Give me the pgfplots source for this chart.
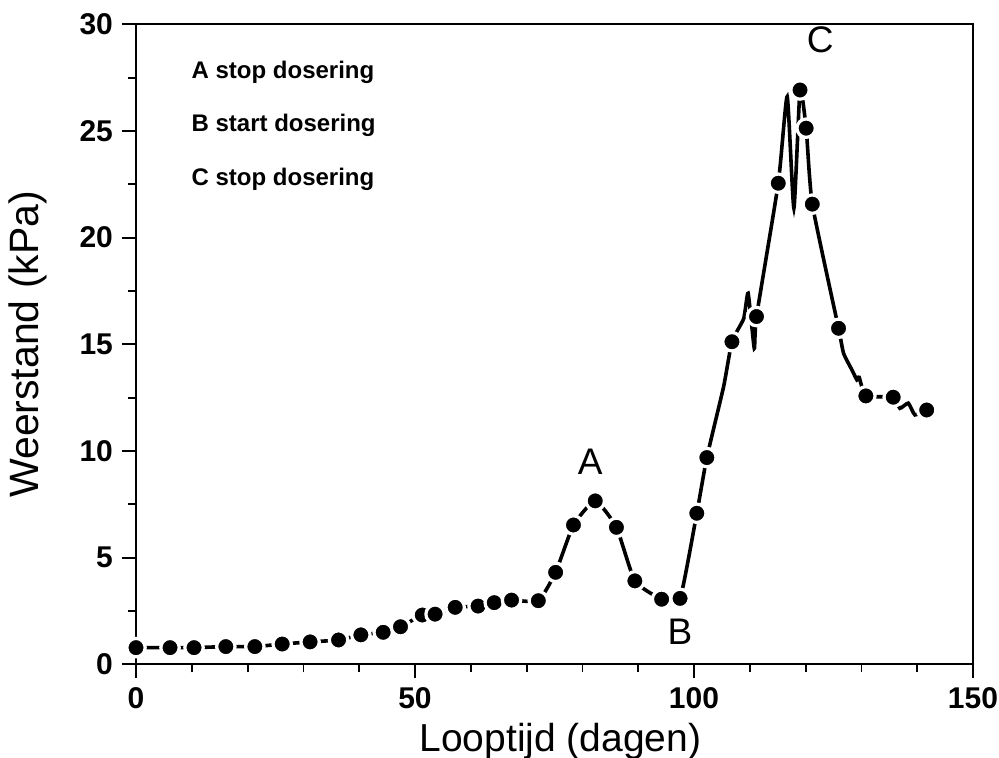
\documentclass[border=0pt]{standalone}
\usepackage{pgfplots}
\pgfplotsset{compat=1.18}
\usepackage{fontspec}
\setmainfont{Liberation Sans}
\setsansfont{Liberation Sans}
\pgfplotstableread{
x y
0 0.78
6.1 0.78
10.4 0.78
16.1 0.83
21.3 0.83
26.2 0.95
31.2 1.05
36.3 1.14
40.3 1.38
44.3 1.50
47.4 1.76
51.3 2.31
53.6 2.35
57.2 2.67
61.3 2.73
64.2 2.89
67.3 3.01
72.1 2.98
75.2 4.31
78.4 6.53
82.3 7.66
86.1 6.42
89.4 3.91
94.2 3.05
97.5 3.09
100.5 7.08
102.3 9.69
105.3 13.01
106.8 15.12
108.9 16.2
109.7 17.39
110.8 14.81
111.2 16.30
115.1 22.55
116.7 26.61
117.9 21.38
119.0 26.92
120.1 25.13
121.2 21.57
125.9 15.75
126.8 14.58
128.3 13.80
129.2 13.33
129.6 13.45
130.8 12.58
135.7 12.52
136.9 12.00
138.4 12.24
139.6 11.69
141.7 11.92
143.5 11.84
}\linedata
\pgfplotstableread{
x y
0 0.78
6.1 0.78
10.4 0.78
16.1 0.83
21.3 0.83
26.2 0.95
31.2 1.05
36.3 1.14
40.3 1.38
44.3 1.50
47.4 1.76
51.3 2.31
53.6 2.35
57.2 2.67
61.3 2.73
64.2 2.89
67.3 3.01
72.1 2.98
75.2 4.31
78.4 6.53
82.3 7.66
86.1 6.42
89.4 3.91
94.2 3.05
97.5 3.09
100.5 7.08
102.3 9.69
106.8 15.12
111.2 16.30
115.1 22.55
119.0 26.92
120.1 25.13
121.2 21.57
125.9 15.75
130.8 12.58
135.7 12.52
141.7 11.92
}\markdata
\begin{document}
\begin{tikzpicture}
\useasboundingbox (-68pt,-46.85pt) rectangle (431.5pt,332.15pt);
\begin{axis}[
  at={(0,0)}, anchor=south west,
  scale only axis,
  width=418.5pt, height=320pt,
  xmin=0, xmax=150, ymin=0, ymax=30,
  xtick={0,50,100,150},
  minor xtick={10,20,30,40,60,70,80,90,110,120,130,140},
  ytick={0,5,10,15,20,25,30},
  minor ytick={2.5,7.5,12.5,17.5,22.5,27.5},
  tick align=outside,
  xtick pos=left, ytick pos=left,
  major tick length=7pt, minor tick length=4pt,
  every tick/.style={black, line width=0.9pt},
  axis line style={line width=1pt},
  /pgf/number format/assume math mode=true,
  ticklabel style={font=\fontsize{15}{17}\selectfont\bfseries},
  xticklabel style={yshift=-1pt},
  yticklabel style={xshift=-1pt},
  xlabel={Looptijd (dagen)},
  ylabel={Weerstand (kPa)},
  xlabel style={font=\fontsize{19.5}{21}\selectfont, at={(axis description cs:0.507,-0.121)}, anchor=center},
  ylabel style={font=\fontsize{20.5}{22}\selectfont, at={(axis description cs:-0.129,0.5)}, anchor=center, rotate=0},
  clip=false,
]
\addplot[black, line width=1.8pt, smooth, tension=0.3, mark=none] table[x=x,y=y] {\linedata};
\addplot[only marks, mark=*, mark size=4.6pt, mark options={fill=black, draw=white, line width=1.6pt}] table[x=x,y=y] {\markdata};
\node[font=\fontsize{12}{14}\selectfont\bfseries, anchor=west, inner sep=0pt] at (axis cs:9.9,27.77) {A stop dosering};
\node[font=\fontsize{12}{14}\selectfont\bfseries, anchor=west, inner sep=0pt] at (axis cs:9.9,25.24) {B start dosering};
\node[font=\fontsize{12}{14}\selectfont\bfseries, anchor=west, inner sep=0pt] at (axis cs:9.9,22.75) {C stop dosering};
\node[font=\fontsize{18.5}{20}\selectfont] at (axis cs:81.4,9.48) {A};
\node[font=\fontsize{18.5}{20}\selectfont] at (axis cs:97.5,1.52) {B};
\node[font=\fontsize{18.5}{20}\selectfont] at (axis cs:122.6,29.27) {C};
\end{axis}
\end{tikzpicture}
\end{document}
